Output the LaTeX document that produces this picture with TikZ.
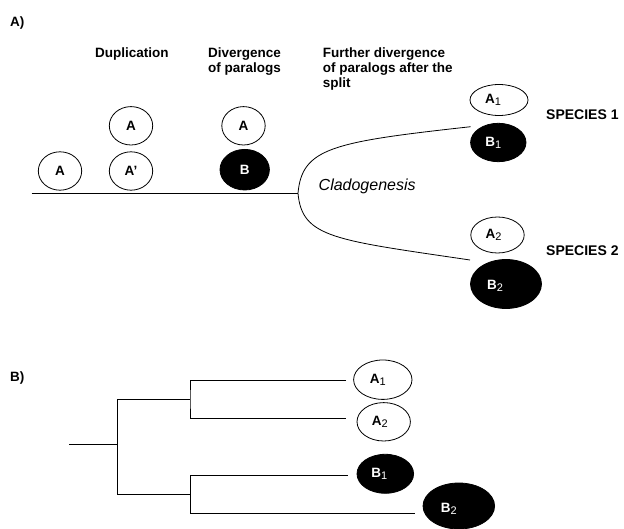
\documentclass[tikz,border=0pt]{standalone}
\usepackage{fontspec}
\setmainfont{Liberation Sans}
\usetikzlibrary{shapes.geometric}
\newcommand\subd[1]{\raisebox{-0.3ex}{\fontsize{11}{11}\selectfont\mdseries #1}}
\begin{document}
\begin{tikzpicture}[x=1pt,y=-1pt,
  every node/.style={font=\fontsize{13.5}{15}\selectfont\bfseries},
  ov/.style={ellipse, draw, line width=0.8pt, inner sep=0pt},
  ovw/.style={ov, fill=white},
  ovb/.style={ov, fill=black},
  lab/.style={anchor=base west, inner sep=0pt},
  wt/.style={text=white},
  ln/.style={line width=0.8pt}
]
\useasboundingbox (0,0) rectangle (624,529);

% ---------- Part A ----------
\node[lab] (tA) at (10,26.5) {A)};
\node[lab] (tdup) at (95,57.3) {Duplication};
\node[lab] (tdiv1) at (208,57.3) {Divergence};
\node[lab] (tdiv2) at (208,72.3) {of paralogs};
\node[lab] (tfur1) at (322.7,57.3) {Further divergence};
\node[lab] (tfur2) at (322.7,72.3) {of paralogs after the};
\node[lab] (tfur3) at (322.7,87.3) {split};

\node[ovw, minimum width=43.4, minimum height=38.4] (a0) at (60,171) {};
\node (ta0) at (a0) {A};
\node[ovw, minimum width=43.4, minimum height=38.4] (a1t) at (131,125.8) {};
\node (ta1t) at (a1t) {A};
\node[ovw, minimum width=43.4, minimum height=38.4] (a1b) at (131,171) {};
\node (ta1b) at (a1b) {A'};
\node[ovw, minimum width=43.4, minimum height=38.4] (a2t) at (243.5,125.8) {};
\node (ta2t) at (a2t) {A};
\node[ovb, minimum width=49.4, minimum height=40.6] (bb) at (244.7,169.7) {};
\node[wt] (tbb) at (bb) {B};

\coordinate (s0) at (31.7,193.3);
\coordinate (br) at (298,193.3);
\coordinate (c1) at (470.7,126.7);
\coordinate (c2) at (470,260);
\draw[ln] (s0) -- (br);
\draw[ln] (br) .. controls (302,148) and (332,142) .. (c1);
\draw[ln] (br) .. controls (302,238) and (335,240) .. (c2);

\node[lab, font=\fontsize{16}{16}\selectfont\itshape] (tclad) at (318.5,191) {Cladogenesis};

\node[ovw, minimum width=58, minimum height=31] (sa1) at (499,100) {};
\node (tsa1) at ([xshift=-6]sa1.center) {A\subd{1}};
\node[ovb, minimum width=55.4, minimum height=38.4] (sb1) at (498.3,142.5) {};
\node[wt] (tsb1) at ([xshift=-5]sb1.center) {B\subd{1}};
\node[ovw, minimum width=53.4, minimum height=36] (sa2) at (497.5,235) {};
\node (tsa2) at ([xshift=-4]sa2.center) {A\subd{2}};
\node[ovb, minimum width=71, minimum height=49] (sb2) at (506,284) {};
\node[wt] (tsb2) at ([xshift=-11,yshift=-2]sb2.center) {B\subd{2}};

\node[lab, font=\fontsize{14}{15}\selectfont\bfseries] (sp1) at (546,120) {SPECIES 1};
\node[lab, font=\fontsize{14}{15}\selectfont\bfseries] (sp2) at (546,256) {SPECIES 2};

% ---------- Part B ----------
\node[lab] (tB) at (10,381.5) {B)};

\coordinate (r0) at (69,444.3);
\coordinate (n1) at (117.3,444.3);
\coordinate (n2) at (190,399.3);
\coordinate (n3) at (190.7,494.3);
\coordinate (ea1) at (346,380.7);
\coordinate (ea2) at (346,418.3);
\coordinate (eb1) at (347.7,475.7);
\coordinate (eb2) at (415.3,513);
\draw[ln] (r0) -- (n1);
\draw[ln] (n2) -| (n1) |- (n3);
\draw[ln] (ea1) -| (n2) |- (ea2);
\draw[ln] (eb1) -| (n3) |- (eb2);

\node[ovw, minimum width=58.4, minimum height=39.4] (pa1) at (382.8,379.7) {};
\node (tpa1) at ([xshift=-5]pa1.center) {A\subd{1}};
\node[ovw, minimum width=53.4, minimum height=38.4] (pa2) at (383.7,421.8) {};
\node (tpa2) at ([xshift=-4]pa2.center) {A\subd{2}};
\node[ovb, minimum width=56.6, minimum height=39] (pb1) at (385.3,473.8) {};
\node[wt] (tpb1) at ([xshift=-6]pb1.center) {B\subd{1}};
\node[ovb, minimum width=71.6, minimum height=46] (pb2) at (458.8,506) {};
\node[wt] (tpb2) at ([xshift=-10,yshift=-3]pb2.center) {B\subd{2}};
\end{tikzpicture}
\end{document}
